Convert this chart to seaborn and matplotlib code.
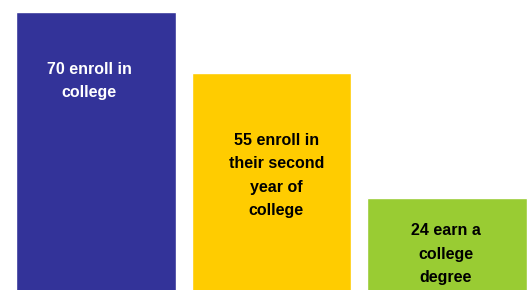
import numpy as np
import pandas as pd
import matplotlib.pyplot as plt
import seaborn as sns

stages = ["enroll", "second year", "degree"]
counts = [70, 55, 24]
labels = ["70 enroll in\ncollege", "55 enroll in\ntheir second\nyear of\ncollege", "24 earn a\ncollege\ndegree"]
colors = ["#333399", "#FFCC00", "#99CC33"]
text_colors = ["white", "black", "black"]
# where the last line of each label sits (data units)
label_x = [-0.037, 1.028, 1.991]
label_y = [48.98, 19.79, 3.22]

df = pd.DataFrame({"stage": stages, "count": counts})

sns.set_style("white")
plt.rcParams["font.family"] = ["Liberation Sans", "DejaVu Sans"]

fig = plt.figure(figsize=(5.27, 2.90), dpi=100)
ax = fig.add_axes([0, 0, 1, 1])
sns.barplot(data=df, x="stage", y="count", hue="stage", palette=colors,
            width=160 / 176, saturation=1, legend=False, ax=ax)

for lab, tc, lx, ly in zip(labels, text_colors, label_x, label_y):
    ax.text(lx, ly, lab, ha="center", va="baseline", multialignment="center",
            color=tc, fontsize=11.5, fontweight="bold", linespacing=1.69)

ax.set_xlim(-0.5455, 2.4545)
ax.set_ylim(1.24, 72.97)
ax.axis("off")

fig.savefig("out.png", dpi=100)
